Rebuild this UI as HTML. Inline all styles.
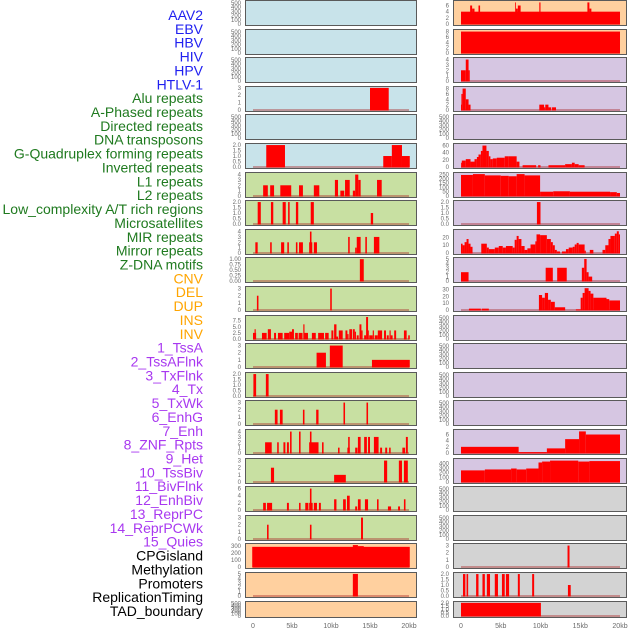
<!DOCTYPE html>
<html><head><meta charset="utf-8"><style>
html,body{margin:0;padding:0;background:#fff;}
svg{display:block;font-family:"Liberation Sans",sans-serif;}
</style></head><body>
<svg id="chart" width="630" height="630" viewBox="0 0 630 630" xmlns="http://www.w3.org/2000/svg"></svg>
<script>
// ---- data ----
const trackLabels = ["AAV2","EBV","HBV","HIV","HPV","HTLV-1","Alu repeats","A-Phased repeats","Directed repeats","DNA transposons","G-Quadruplex forming repeats","Inverted repeats","L1 repeats","L2 repeats","Low_complexity A/T rich regions","Microsatellites","MIR repeats","Mirror repeats","Z-DNA motifs","CNV","DEL","DUP","INS","INV","1_TssA","2_TssAFlnk","3_TxFlnk","4_Tx","5_TxWk","6_EnhG","7_Enh","8_ZNF_Rpts","9_Het","10_TssBiv","11_BivFlnk","12_EnhBiv","13_ReprPC","14_ReprPCWk","15_Quies","CPGisland","Methylation","Promoters","ReplicationTiming","TAD_boundary"];
const labelGroups = ["v","v","v","v","v","v","r","r","r","r","r","r","r","r","r","r","r","r","r","s","s","s","s","s","c","c","c","c","c","c","c","c","c","c","c","c","c","c","c","o","o","o","o","o"];
const xTickValues = [0,5,10,15,20];
const xTickLabels = ["0","5kb","10kb","15kb","20kb"];
const emptyTicks = [0,100,200,300,400,500];
// left column segments [startKb, endKb, value]
const L0=[],L1=[],L2=[],L4=[];
const L3=[[15.0,17.4,3]];
const L5=[[1.7,4.1,2],[16.7,17.8,1],[17.8,19.1,2],[19.1,20.1,1]];
const L6=[[1.3,1.9,2],[2.2,2.7,2],[3.5,4.9,2],[5.9,6.4,2],[7.8,8.5,2],[10.5,10.9,3],[11.2,11.7,1],[11.8,12.4,3],[12.8,13.1,1],[13.1,13.5,4],[13.5,13.8,3],[15.9,16.5,3]];
const L7=[[0.6,1.0,2],[2.3,2.6,2],[3.8,4.2,2],[4.5,4.7,2],[5.5,5.8,2],[7.4,7.8,2],[15.1,15.4,1]];
const L8=[[0.3,0.6,2],[2.2,2.4,2],[3.6,4.0,2],[4.4,4.6,2],[5.5,5.7,2],[5.9,6.4,2],[7.2,7.6,2],[7.3,7.5,4],[7.8,8.2,2],[12.2,12.4,3],[13.1,13.3,1],[13.3,13.8,3],[14.4,14.6,3],[15.5,16.2,3]];
const L9=[[13.7,14.2,1]];
const L10=[[0.5,0.7,2],[9.9,10.1,3]];
const L11=[[0,0.4,2.5],[0.2,0.35,4],[1.15,1.75,2.5],[1.9,2.3,4],[2.7,2.95,2.5],[3.2,3.8,2.5],[4.0,4.65,2.5],[4.65,5.0,3],[5.0,5.25,4],[5.4,5.75,2.5],[5.85,6.35,2.5],[6.45,6.6,6],[6.6,7.05,2.5],[7.55,8.05,2.5],[8.35,9.1,2.5],[9.25,9.7,2.5],[10.05,10.3,3.5],[10.4,10.7,6],[10.7,10.9,1],[11.0,11.5,3.5],[11.85,12.1,3.5],[12.1,12.25,2],[12.35,12.7,4],[12.8,13.05,4],[13.05,13.2,3],[13.3,13.55,1.5],[13.65,13.9,6],[13.9,14.05,3.5],[14.25,14.5,1.5],[14.5,14.75,9],[14.75,14.85,3.5],[14.9,15.35,1.5],[15.35,15.5,3.5],[15.6,16.0,1.5],[16.0,16.55,3.5],[16.8,17.05,3.5],[17.15,17.4,1.5],[17.5,17.65,3.5],[17.65,17.9,1.5],[18.1,18.35,3.5],[19.35,19.7,3.5],[19.9,20.1,1.5]];
const L12=[[8.15,9.35,2],[9.85,11.5,3],[15.25,20.1,1]];
const L13=[[0.05,0.4,2],[1.65,2.0,2]];
const L14=[[2.8,3.15,2],[3.45,3.8,2],[6.4,6.6,2],[8.1,8.4,2],[11.6,11.8,3],[14.55,14.75,3]];
const L15=[[1.55,2.4,2],[3.1,3.3,2],[3.9,4.15,2],[4.35,4.6,2],[4.75,4.95,4],[5.9,6.1,4],[7.2,8.4,2],[7.3,7.5,4],[8.85,9.05,2],[10.9,11.1,1],[12.1,12.4,1],[12.2,12.4,3],[13.1,13.4,1],[13.45,13.8,3],[14.25,14.6,3],[14.75,15.0,3],[15.5,16.1,3],[16.3,16.55,1],[16.95,17.2,1],[17.45,17.65,1],[19.15,19.5,1],[19.6,19.85,3]];
const L16=[[2.3,2.7,2],[10.4,11.9,1],[16.8,17.2,3],[18.7,19.1,3],[19.35,19.85,3]];
const L17=[[1.3,1.65,2],[1.8,2.45,2],[4.35,4.6,2],[5.9,6.1,2],[6.7,7.1,2],[7.2,7.65,2],[7.3,7.5,6],[7.8,8.2,2],[8.45,8.7,2],[10.4,10.7,3],[11.55,11.9,3],[12.05,12.4,4],[13.1,13.35,1],[13.45,13.8,3],[14.35,14.75,3],[15.9,16.1,3],[17.3,17.7,1],[18.6,18.85,1],[19.35,19.55,3]];
const L18=[[1.8,2.0,2],[7.3,7.5,2],[13.85,14.1,3]];
const L19=[[-0.1,20.1,285],[12.8,13.45,310],[13.45,14.2,295]];
const L20=[[12.8,13.45,5]];
const L21=[];
// right column segments
const R0=[[0,20,4],[1.15,1.4,6],[1.4,1.7,5],[2.2,2.4,6],[6.8,6.9,7],[6.9,7.15,5],[7.15,7.5,6],[9.85,10.0,7],[15.9,16.15,7],[16.15,16.4,5]];
const R1=[[0,20,8]];
const R2=[[0,0.6,2],[0.6,0.95,4],[0.95,1.1,2]];
const R3=[[0,0.05,2],[0.05,0.2,6],[0.2,0.6,8],[0.6,0.95,4],[0.95,1.2,2],[9.85,10.45,2],[10.45,10.6,1],[10.6,11.0,2],[11.0,11.35,1],[11.45,11.95,1]];
const R4=[];
const R5=[[0,0.1,12],[0.1,0.6,18],[0.6,1.2,22],[1.2,1.7,15],[1.7,2.0,22],[2.0,2.2,28],[2.2,2.5,35],[2.5,2.7,45],[2.7,3.2,60],[3.2,3.5,45],[3.5,3.7,30],[3.7,4.0,22],[4.0,4.5,24],[4.5,5.5,26],[5.5,6.0,30],[6.0,7.0,30],[7.0,7.35,15],[7.75,9.45,5],[9.7,10.0,5],[11.0,13.1,5],[13.1,13.95,8],[13.95,14.3,12],[14.3,14.8,8],[14.8,15.55,5]];
const R6=[[0,1.5,245],[1.5,3.0,255],[3.0,5.0,240],[5.0,6.0,235],[6.0,7.0,230],[7.0,8.0,255],[8.0,9.95,240],[9.95,11.6,50],[11.6,13.7,55],[13.7,18.75,50],[18.75,19.6,45],[19.6,20,35]];
const R7=[[9.55,10.0,2]];
const R8=[[0,0.2,12],[0.2,0.45,10],[0.45,0.7,14],[0.7,0.95,18],[0.95,1.2,12],[1.2,1.45,8],[2.55,3.25,12],[3.25,3.5,7],[3.5,4.25,5],[4.25,4.75,7],[4.75,5.25,9],[5.25,5.65,7],[5.65,6.5,9],[6.5,6.75,7],[6.75,7.0,17],[7.0,7.25,22],[7.25,7.6,18],[7.6,8.0,9],[8.0,8.35,4],[8.35,8.75,6],[8.75,9.35,11],[9.35,9.5,15],[9.5,9.95,24],[9.95,10.8,23],[10.8,11.3,18],[11.3,11.55,14],[11.55,11.8,10],[11.8,12.05,4],[12.05,12.45,2],[12.7,13.2,2],[13.2,13.55,5],[13.55,14.05,7],[14.05,14.3,8],[14.3,14.55,11],[14.55,14.8,13],[14.8,15.55,11],[15.55,15.7,3],[16.2,16.65,4],[17.8,18.15,4],[18.15,18.55,10],[18.55,18.8,18],[18.8,19.35,22],[19.35,19.6,25],[19.6,19.85,28],[19.85,20,24]];
const R9=[[0,0.95,2],[10.65,11.55,3],[12.1,13.3,3],[15.2,15.5,3],[15.5,15.8,5],[15.8,16.05,2],[16.05,16.5,1]];
const R10=[[1.0,2.5,2],[2.6,3.5,2],[9.8,10.2,22],[10.2,10.55,18],[10.55,10.95,25],[10.95,11.3,15],[11.3,11.8,12],[11.8,13.1,4],[14.45,15.05,1],[15.05,15.3,18],[15.3,15.55,25],[15.55,16.05,32],[16.05,16.3,28],[16.3,16.65,24],[16.65,18.3,18],[18.3,18.65,16],[18.65,20,14]];
const R11=[],R12=[],R13=[],R14=[];
const R15=[[0,7.25,2],[7.25,10.8,0.3],[10.8,13.1,1.5],[13.1,14.85,4.5],[14.85,15.7,7],[15.7,20,6]];
const R16=[[0,3.0,250],[3.0,6.3,270],[6.3,7.0,290],[7.0,8.2,270],[8.2,9.75,290],[9.75,10.2,420],[10.2,11.2,440],[11.2,14.75,460],[14.75,16.15,440],[16.15,20,450]];
const R17=[],R18=[];
const R19=[[13.4,13.65,3]];
const R20=[[0.25,0.55,2],[0.7,0.9,2],[1.9,2.2,2],[2.7,3.0,2],[3.25,3.65,2],[4.25,4.65,2],[5.15,5.5,2],[5.65,6.05,2],[7.15,7.4,2],[8.95,9.2,2],[13.45,13.8,1]];
const R21=[[0,10.05,2]];
// y-axis scale maxima and tick values per panel
const leftMax=[530,530,530,3.05,530,2.05,4.2,2.05,4.2,1.03,3.15,9.2,3.15,2.05,3.15,4.2,3.15,6.3,3.15,318,5.1,530];
const leftTicks=[emptyTicks,emptyTicks,emptyTicks,[0,1,2,3],emptyTicks,[0,0.5,1,1.5,2],[0,1,2,3,4],[0,0.5,1,1.5,2],[0,1,2,3,4],[0,0.25,0.5,0.75,1],[0,1,2,3],[0,2.5,5,7.5],[0,1,2,3],[0,0.5,1,1.5,2],[0,1,2,3],[0,1,2,3,4],[0,1,2,3],[0,2,4,6],[0,1,2,3],[0,100,200,300],[0,1,2,3,4,5],emptyTicks];
const rightMax=[7.3,8.4,4.2,8.4,530,63,262,2.05,29,5.1,33,530,530,530,530,7.3,484,530,530,3.15,2.05,2.05];
const rightTicks=[[0,2,4,6],[0,2,4,6,8],[0,1,2,3,4],[0,2,4,6,8],emptyTicks,[0,20,40,60],[0,50,100,150,200,250],[0,0.5,1,1.5,2],[0,10,20],[0,1,2,3,4,5],[0,10,20,30],emptyTicks,emptyTicks,emptyTicks,emptyTicks,[0,2,4,6],[0,100,200,300,400],emptyTicks,emptyTicks,[0,1,2,3],[0,0.5,1,1.5,2],[0,0.5,1,1.5,2]];
const leftData=[L0,L1,L2,L3,L4,L5,L6,L7,L8,L9,L10,L11,L12,L13,L14,L15,L16,L17,L18,L19,L20,L21];
const rightData=[R0,R1,R2,R3,R4,R5,R6,R7,R8,R9,R10,R11,R12,R13,R14,R15,R16,R17,R18,R19,R20,R21];
// ---- drawing ----
const NS="http://www.w3.org/2000/svg";
const svg=document.getElementById("chart");
const groupColor={v:"#2020f0",r:"#1f7a1f",s:"#ffa500",c:"#a838f0",o:"#000000"};
const leftBg=i=>i<6?"#c8e3ea":(i<19?"#c8e0a2":"#ffd09f");
const rightBg=i=>i<2?"#ffd09f":(i<17?"#d6c6e2":"#d3d3d3");
function mk(tag,attrs){const e=document.createElementNS(NS,tag);for(const k in attrs)e.setAttribute(k,attrs[k]);svg.appendChild(e);return e;}
function fmt(v,ticks){const dec=ticks.some(t=>Math.abs(t-Math.round(t))>1e-9);if(!dec)return String(v);const two=ticks.some(t=>Math.abs(t*2-Math.round(t*2))>1e-9);return v.toFixed(two?2:1);}
trackLabels.forEach((t,i)=>{
  const e=mk("text",{x:203,y:(20+i*13.86).toFixed(1),"text-anchor":"end","font-size":"14",fill:groupColor[labelGroups[i]]});
  e.textContent=t;
  
  
});
function drawPanel(col,i,data,ymax,ticks){
  const px=col===0?245:453, pw=col===0?171:173;
  const x0=col===0?253:461, x1=col===0?409:620;
  const xs=kb=>x0+(x1-x0)*kb/20;
  const top=Math.round(i*28.6)+0.5, h=i===21?16:25;
  const yb=top+h-1.5, yt=top+1;
  const ys=v=>yb-(yb-yt)*Math.min(v,ymax)/ymax;
  const bg=mk("rect",{x:px+0.5,y:top,width:pw,height:h,fill:col===0?leftBg(i):rightBg(i),stroke:"#5a5a5a","stroke-width":"1"});
  
  
  if(data.length){
    const bl=mk("line",{x1:xs(0),x2:xs(20),y1:yb,y2:yb,stroke:"rgba(170,40,40,0.55)","stroke-width":"1.6"});
    
    
  }
  data.forEach(d=>{
    const y=ys(d[2]);
    const r=mk("rect",{x:xs(d[0]).toFixed(2),y:y.toFixed(2),width:Math.max(0.8,xs(d[1])-xs(d[0])).toFixed(2),height:(yb-y+0.5).toFixed(2),fill:"#ff0000"});
    
    
  });
  const tx=col===0?241:449;
  ticks.forEach(v=>{
    const t=mk("text",{x:tx,y:(ys(v)+2).toFixed(1),"text-anchor":"end","font-size":"6",fill:"#6a6a6a"});
    t.textContent=fmt(v,ticks);
    
    
  });
  if(i===21){
    xTickValues.forEach((v,k)=>{
      const t=mk("text",{x:xs(v),y:628,"text-anchor":"middle","font-size":"7",fill:"#6a6a6a"});
      t.textContent=xTickLabels[k];
      
      
    });
  }
}
for(let i=0;i<22;i++){drawPanel(0,i,leftData[i],leftMax[i],leftTicks[i]);drawPanel(1,i,rightData[i],rightMax[i],rightTicks[i]);}
</script>
</body></html>
